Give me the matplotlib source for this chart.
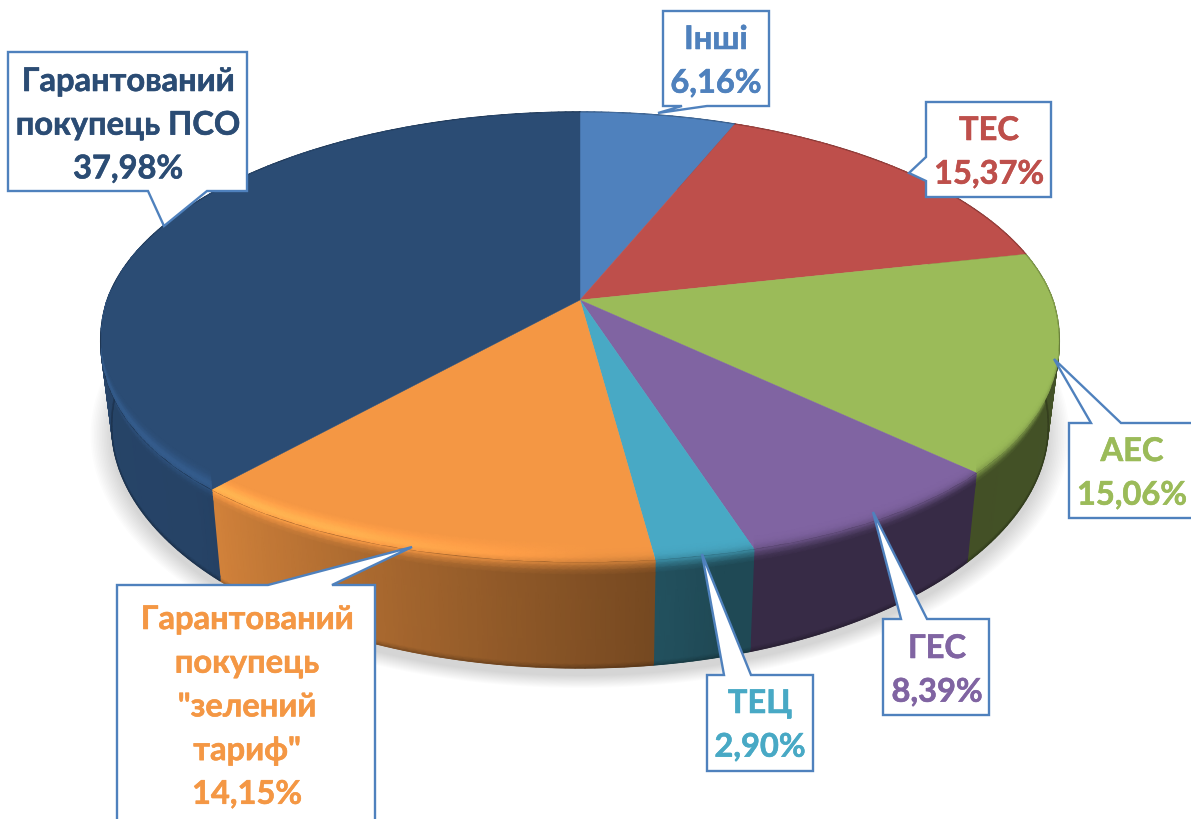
## IMPORT MODULES
import matplotlib
matplotlib.use('Agg')
import matplotlib.pyplot as plt
import matplotlib.patheffects as pe
from matplotlib.collections import LineCollection
from matplotlib.colors import to_rgb
from matplotlib.patches import Polygon
import numpy as np

## DATA
names = ['Інші', 'ТЕС', 'АЕС', 'ГЕС', 'ТЕЦ', 'Гарантований\nпокупець\n"зелений\nтариф"', 'Гарантований\nпокупець ПСО']
shares = [6.16, 15.37, 15.06, 8.39, 2.90, 14.15, 37.98]
share_labels = ['6,16%', '15,37%', '15,06%', '8,39%', '2,90%', '14,15%', '37,98%']

## STYLE
colors = ['#4F81BD', '#BE4F4B', '#9BBB59', '#8064A2', '#48A9C5', '#F49744', '#2B4C74']
edge_blue = '#4F81BD'

# callout layout, pixels: box left/right/top/bottom, pointer (base a, base b, tip), first baseline, text centre
boxes = [
    (663, 769, 11, 106, (682, 106), (707, 106), (658, 113), 49, 716),
    (926, 1051, 102, 197, (926, 157), (926, 181), (909, 173), 140, 989),
    (1069, 1200, 423, 518, (1091, 423), (1121, 423), (1054, 359), 461, 1132),
    (883, 989, 619, 715, (901, 619), (927, 619), (873, 512), 658, 937),
    (707, 813, 675, 771, (724, 675), (751, 675), (702, 554), 713, 760),
    (117, 375, 585, 830, (268, 585), (332, 585), (412, 547), 629, 247),
    (8, 247, 52, 191, (148, 191), (207, 191), (164, 226), 91, 128),
]
line_step = 43.7

## PIE GEOMETRY (perspective projection of a circle, top and bottom faces)
cx = 580
persp = 0.164
top_a, top_b, top_y = 473, 219, 300
bot_a, bot_b, bot_y = 462, 235.7, 386

def project(theta, h=0.0):
    # theta clockwise from 12 o'clock, h 0 top face .. 1 bottom face, negative runs back into the top face
    s, c = np.sin(theta), np.cos(theta)
    den = 1 + persp * c
    a = top_a + (bot_a - top_a) * h
    b = top_b + (bot_b - top_b) * h
    y0 = top_y + (bot_y - top_y) * h
    # top face sags a little at the lower sides compared to a pure ellipse
    sag = 25 * s ** 2 * np.clip(-c, 0, 1) * np.clip(1 - h, 0, 1)
    return cx + a * s / den, y0 - b * c / den + sag

def wall_shade(theta):
    return np.interp(np.degrees(theta), [0, 130, 165, 175, 200, 222, 226, 300, 360], [.45, .43, .43, .5, .68, .85, .88, .92, .92])

def shine(theta):
    return np.interp(np.degrees(theta), [0, 178, 205, 235, 270, 295, 360], [0, 0, .9, 1, .8, 0, 0])

# rim profile over the edge and down the wall: h, mix to the wall colour, highlight, extra darkening
rim_top = [(-.19, 0, 0, 0), (-.13, 0, .3, 0), (-.08, .02, .75, 0), (-.04, .08, 1, 0), (0, .28, .7, 0)]
rim_wall = [(0, .28, .7, 0), (.035, .55, .35, 0), (.08, .85, .08, 0), (.125, 1, 0, 0), (.96, 1, 0, 0), (1, 1, 0, .22)]

def rim_mesh(th, face, profile):
    X, Y, C = [], [], []
    for h, mix, hi, dark in profile:
        x, y = project(th, h)
        X.append(x)
        Y.append(y)
        shade = wall_shade(th)
        m = (1 - mix) + mix * shade
        m = m * (1 + .24 * hi * shine(th)) * (1 - dark)
        C.append(np.clip(np.outer(m, face), 0, 1))
    return np.array(X), np.array(Y), np.array(C)

fig = plt.figure(figsize=(11.91, 8.19), dpi=100)
ax = fig.add_axes([0, 0, 1, 1])
ax.set_xlim(0, 1191)
ax.set_ylim(819, 0)
ax.axis('off')

## SOFT SHADOW UNDER THE PIE
ring = np.linspace(0, 2 * np.pi, 361)
for grow in np.linspace(1.045, 1.0, 14):
    x, y = project(ring, 1.0)
    ax.add_patch(Polygon(np.c_[cx + (x - cx) * grow, 8 + 400 + (y - 400) * grow], fc='black', ec='none', alpha=0.013, zorder=1))

## SLICES
fractions = np.array(shares) / np.sum(shares)
edges = np.concatenate([[0], np.cumsum(fractions)]) * 2 * np.pi

for i in range(len(shares)):
    th = np.linspace(edges[i], edges[i + 1], max(int(np.degrees(edges[i + 1] - edges[i])), 2) + 1)
    face = np.array(to_rgb(colors[i]))

    # wall
    X, Y, C = rim_mesh(th, face, rim_wall)
    ax.pcolormesh(X, Y, C, shading='gouraud', zorder=2)

    # smooth the stepped lower edge of the wall
    xb, yb = project(th, 1.0)
    segs = np.stack([np.c_[xb[:-1], yb[:-1]], np.c_[xb[1:], yb[1:]]], axis=1)
    ax.add_collection(LineCollection(segs, colors=C[-1][:-1], linewidths=1.0, zorder=2.1))

    # flat top face, with a thin darker edge at the back
    x, y = project(th, 0.0)
    sector = np.vstack([[[cx, top_y]], np.c_[x, y]])
    ax.add_patch(Polygon(sector, fc=face, ec=face, lw=0.3, zorder=3))
    ax.plot(x, y, color=tuple(face * .5), lw=0.8, alpha=.55, zorder=3.1)

    # rim running round the front of the top face, kept inside its own slice
    X, Y, C = rim_mesh(th, face, rim_top)
    mesh = ax.pcolormesh(X, Y, C, shading='gouraud', zorder=4)
    mesh.set_clip_path(Polygon(sector, transform=ax.transData))

## CALLOUTS
for i in range(len(shares)):
    left, right, top, bottom, pa, pb, tip, base, tx = boxes[i]
    # walk the box outline and put the pointer in on the side it belongs to
    if pa[1] == top:
        pts = [(left, top), pa, tip, pb, (right, top), (right, bottom), (left, bottom)]
    elif pa[1] == bottom:
        pts = [(left, top), (right, top), (right, bottom), pb, tip, pa, (left, bottom)]
    else:
        pts = [(left, top), (right, top), (right, bottom), (left, bottom), pb, tip, pa]
    ax.add_patch(Polygon(pts, closed=True, fc='white', ec=edge_blue, lw=1.7, joinstyle='miter', zorder=6))
    lines = names[i].split('\n') + [share_labels[i]]
    for k, line in enumerate(lines):
        ax.text(tx, base + k * line_step, line, color=colors[i], fontsize=23.5, fontweight='bold',
                family=['Lato', 'Noto Sans', 'DejaVu Sans'], ha='center', va='baseline', zorder=7,
                path_effects=[pe.withStroke(linewidth=0.4, foreground=colors[i])])

fig.savefig('out.png', dpi=100, facecolor='white')
